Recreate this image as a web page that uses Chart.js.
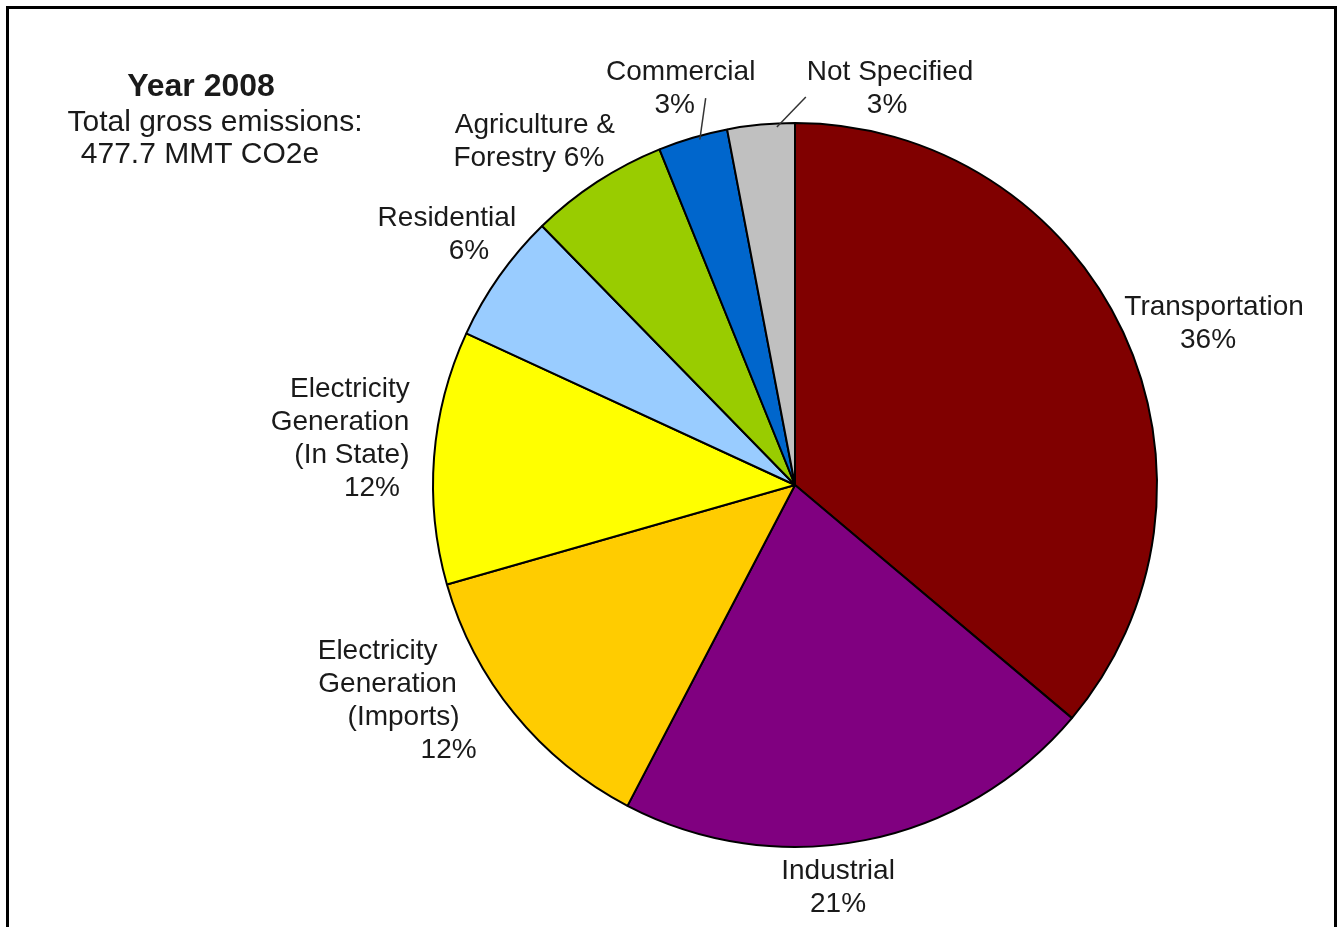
<!DOCTYPE html>
<html>
<head>
<meta charset="utf-8">
<script src="https://cdn.jsdelivr.net/npm/chart.js@4.4.0/dist/chart.umd.min.js"></script>
<style>
  html, body { margin: 0; padding: 0; background: #fff; }
  #wrap { width: 1338px; height: 927px; }
</style>
</head>
<body>
<div id="wrap"><canvas id="pieCanvas" width="1338" height="927"></canvas></div>
<script>
// sectors, clockwise from 12 o'clock
const sectors = ['Transportation', 'Industrial', 'Electricity Generation (Imports)',
  'Electricity Generation (In State)', 'Residential', 'Agriculture & Forestry',
  'Commercial', 'Not Specified'];
// share of gross emissions, %
const shares = [36.1, 21.5, 12.9, 11.3, 5.8, 6.2, 3.1, 3.0];
// the rounded figures printed on the chart
const shareLabels = ['36%', '21%', '12%', '12%', '6%', '6%', '3%', '3%'];
const sliceColors = ['#800000', '#800080', '#FFCC00', '#FFFF00', '#99CCFF', '#99CC00', '#0066CC', '#C0C0C0'];

const titleLines = ['Year 2008', 'Total gross emissions:', '477.7 MMT CO2e'];

// where each label block sits: angle (deg, clockwise from top), distance in radii, per-line x shift
const labelPlace = [
  { ang: 69.0, k: 1.240, lines: [['Transportation', 0], [null, -6]] },
  { ang: 173.9, k: 1.119, lines: [['Industrial', 0], [null, 0]] },
  { ang: 241.1, k: 1.235, lines: [['Electricity', -26], ['Generation', -16], ['(Imports)', 0], [null, 45]] },
  { ang: 275.9, k: 1.236, lines: [['Electricity', 0], ['Generation', -10], ['(In State)', 2], [null, 22]] },
  { ang: 305.9, k: 1.177, lines: [['Residential', -3], [null, 19]] },
  { ang: 322.5, k: 1.194, lines: [['Agriculture &', 3], ['Forestry {p}', -3]] },
  { ang: 343.5, k: 1.141, lines: [['Commercial', 3], [null, -3]] },
  { ang: 13.5, k: 1.125, lines: [['Not Specified', 0], [null, -3]] }
];
// leader lines: [index, inner angle, inner k, outer angle, outer k]
const leaders = [
  [6, 344.6, 0.99, 347.0, 1.097],
  [7, 357.1, 0.99, 1.6, 1.072]
];

const LINE_H = 33;
const TEXT = '#1a1a1a';

const decorPlugin = {
  id: 'decor',
  beforeDraw(chart) {
    const ctx = chart.ctx;
    ctx.save();
    ctx.fillStyle = '#fff';
    ctx.fillRect(0, 0, chart.width, chart.height);
    ctx.restore();
  },
  afterDraw(chart) {
    const ctx = chart.ctx;
    const arcs = chart.getDatasetMeta(0).data;
    const cx = arcs[0].x, cy = arcs[0].y, r = arcs[0].outerRadius;
    const pt = (deg, k) => {
      const a = deg * Math.PI / 180;
      return [cx + Math.sin(a) * r * k, cy - Math.cos(a) * r * k];
    };
    ctx.save();
    // frame
    ctx.strokeStyle = '#000';
    ctx.lineWidth = 3;
    ctx.beginPath();
    ctx.moveTo(7.5, chart.height + 5);
    ctx.lineTo(7.5, 7.5);
    ctx.lineTo(1335.5, 7.5);
    ctx.lineTo(1335.5, chart.height + 5);
    ctx.stroke();

    // title block
    ctx.fillStyle = TEXT;
    ctx.textAlign = 'center';
    ctx.textBaseline = 'alphabetic';
    ctx.font = 'bold 32px "Liberation Sans", Arial, sans-serif';
    ctx.fillText(titleLines[0], 201, 96);
    ctx.font = '30px "Liberation Sans", Arial, sans-serif';
    ctx.fillText(titleLines[1], 215, 131);
    ctx.fillText(titleLines[2], 200, 163);

    // leader lines
    ctx.strokeStyle = '#333';
    ctx.lineWidth = 1.5;
    leaders.forEach(l => {
      const a = pt(l[1], l[2]), b = pt(l[3], l[4]);
      ctx.beginPath();
      ctx.moveTo(a[0], a[1]);
      ctx.lineTo(b[0], b[1]);
      ctx.stroke();
    });

    // slice labels
    ctx.font = '28px "Liberation Sans", Arial, sans-serif';
    ctx.textBaseline = 'middle';
    labelPlace.forEach((p, i) => {
      const c = pt(p.ang, p.k);
      const n = p.lines.length;
      p.lines.forEach((ln, j) => {
        let txt = ln[0] === null ? shareLabels[i] : ln[0].replace('{p}', shareLabels[i]);
        const y = c[1] + (j - (n - 1) / 2) * LINE_H;
        ctx.fillText(txt, c[0] + ln[1], y);
      });
    });
    ctx.restore();
  }
};

new Chart(document.getElementById('pieCanvas'), {
  type: 'pie',
  data: {
    labels: sectors,
    datasets: [{
      data: shares,
      backgroundColor: sliceColors,
      borderColor: '#000',
      borderWidth: 2
    }]
  },
  options: {
    responsive: false,
    animation: false,
    layout: { padding: { left: 431, right: 179, top: 122, bottom: 79 } },
    plugins: {
      legend: { display: false },
      tooltip: { enabled: false }
    }
  },
  plugins: [decorPlugin]
});
</script>
</body>
</html>
